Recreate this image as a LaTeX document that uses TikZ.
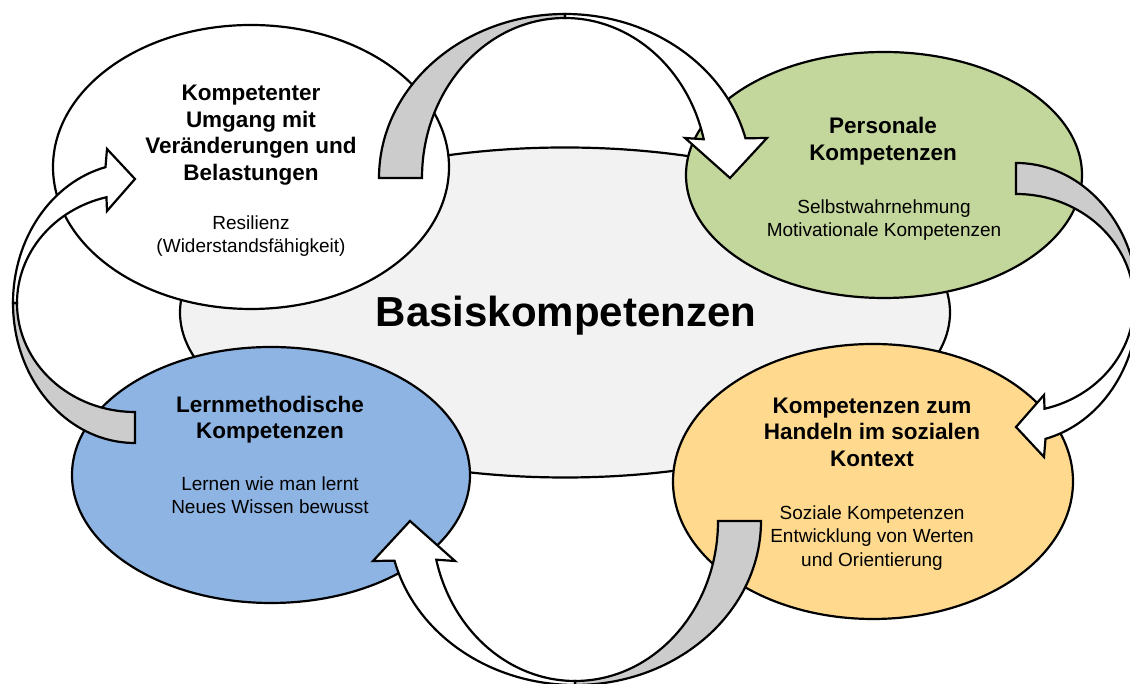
\documentclass[tikz,border=0pt]{standalone}
\usepackage{fontspec}
\setmainfont{Liberation Sans}
\usetikzlibrary{shapes.geometric}

\definecolor{kerngrau}{HTML}{F2F2F2}
\definecolor{personalgruen}{HTML}{C3D69B}
\definecolor{lernblau}{HTML}{8EB4E3}
\definecolor{sozialgelb}{HTML}{FED98E}
\definecolor{pfeilgrau}{HTML}{CCCCCC}

\tikzset{
  bubble/.style={ellipse, draw=black, line width=2.2pt, inner sep=0pt},
  hull/.style={draw=black, line width=2.2pt, line join=miter},
  backside/.style={hull, fill=pfeilgrau},
  frontside/.style={hull, fill=white},
  heading/.style={font=\bfseries\fontsize{22.5}{26.5}\selectfont, align=center, inner sep=0pt},
  detail/.style={font=\fontsize{19}{23.5}\selectfont, align=center, inner sep=0pt}
}

\begin{document}
\begin{tikzpicture}[x=1pt,y=1pt]
  \useasboundingbox (0,0) rectangle (1130,684);
  \fill[white] (0,0) rectangle (1130,684);

  % Basiskompetenzen in der Mitte
  \node[bubble, fill=kerngrau, minimum width=770, minimum height=330] (basis) at (565,371.5) {};
  \node[font=\bfseries\fontsize{42}{50}\selectfont, anchor=base, inner sep=0pt] (basis-text) at (566,357) {Basiskompetenzen};

  % die vier Kompetenzbereiche
  \node[bubble, fill=white, minimum width=396, minimum height=284] (resilienz) at (251,517) {};
  \node[bubble, fill=personalgruen, minimum width=396, minimum height=246] (personal) at (884,509) {};
  \node[bubble, fill=lernblau, minimum width=398, minimum height=256] (lernen) at (271,209) {};
  \node[bubble, fill=sozialgelb, minimum width=400, minimum height=275] (sozial) at (873,202.5) {};

  \node[heading] (resilienz-title) at (251,549) {Kompetenter\\Umgang mit\\Ver\"anderungen und\\Belastungen};
  \node[detail] (resilienz-text) at (251,448) {Resilienz\\(Widerstandsf\"ahigkeit)};
  \node[heading] (personal-title) at (883,543) {Personale\\Kompetenzen};
  \node[detail] (personal-text) at (884,464) {Selbstwahrnehmung\\Motivationale Kompetenzen};
  \node[heading] (lernen-title) at (270,264.5) {Lernmethodische\\Kompetenzen};
  \node[detail] (lernen-text) at (270,189) {Lernen wie man lernt\\Neues Wissen bewusst};
  \node[heading] (sozial-title) at (872,252) {Kompetenzen zum\\Handeln im sozialen\\Kontext};
  \node[detail] (sozial-text) at (872,146) {Soziale Kompetenzen\\Entwicklung von Werten\\und Orientierung};

  % oberer Pfeil
  \begin{scope}[shift={(565,506)}]
    \draw[backside] (180:186 and 164) arc (180:90:186 and 164)
      -- (90:143 and 160) arc (90:180:143 and 160) -- cycle;
    \draw[frontside] (90:186 and 164) arc (90:14:186 and 164)
      -- (202,40) -- (165,0) -- (120,40)
      -- (14:143 and 160) arc (14:90:143 and 160) -- cycle;
  \end{scope}

  % unterer Pfeil
  \begin{scope}[shift={(575,163)}, rotate=180]
    \draw[backside] (180:186 and 164) arc (180:90:186 and 164)
      -- (90:143 and 160) arc (90:180:143 and 160) -- cycle;
    \draw[frontside] (90:186 and 164) arc (90:14:186 and 164)
      -- (202,40) -- (165,0) -- (120,40)
      -- (14:143 and 160) arc (14:90:143 and 160) -- cycle;
  \end{scope}

  % linker Pfeil
  \begin{scope}[shift={(135,381)}]
    \draw[backside] (270:122 and 140) arc (270:180:122 and 140)
      -- (180:118 and 109) arc (180:270:118 and 109) -- cycle;
    \draw[frontside] (180:122 and 140) arc (180:104:122 and 140)
      -- (-28,154) -- (0,124) -- (-28,92)
      -- (104:118 and 109) arc (104:180:118 and 109) -- cycle;
  \end{scope}

  % rechter Pfeil
  \begin{scope}[shift={(1016,381)}, rotate=180]
    \draw[backside] (270:122 and 140) arc (270:180:122 and 140)
      -- (180:118 and 109) arc (180:270:118 and 109) -- cycle;
    \draw[frontside] (180:122 and 140) arc (180:104:122 and 140)
      -- (-28,154) -- (0,124) -- (-28,92)
      -- (104:118 and 109) arc (104:180:118 and 109) -- cycle;
  \end{scope}
\end{tikzpicture}
\end{document}
